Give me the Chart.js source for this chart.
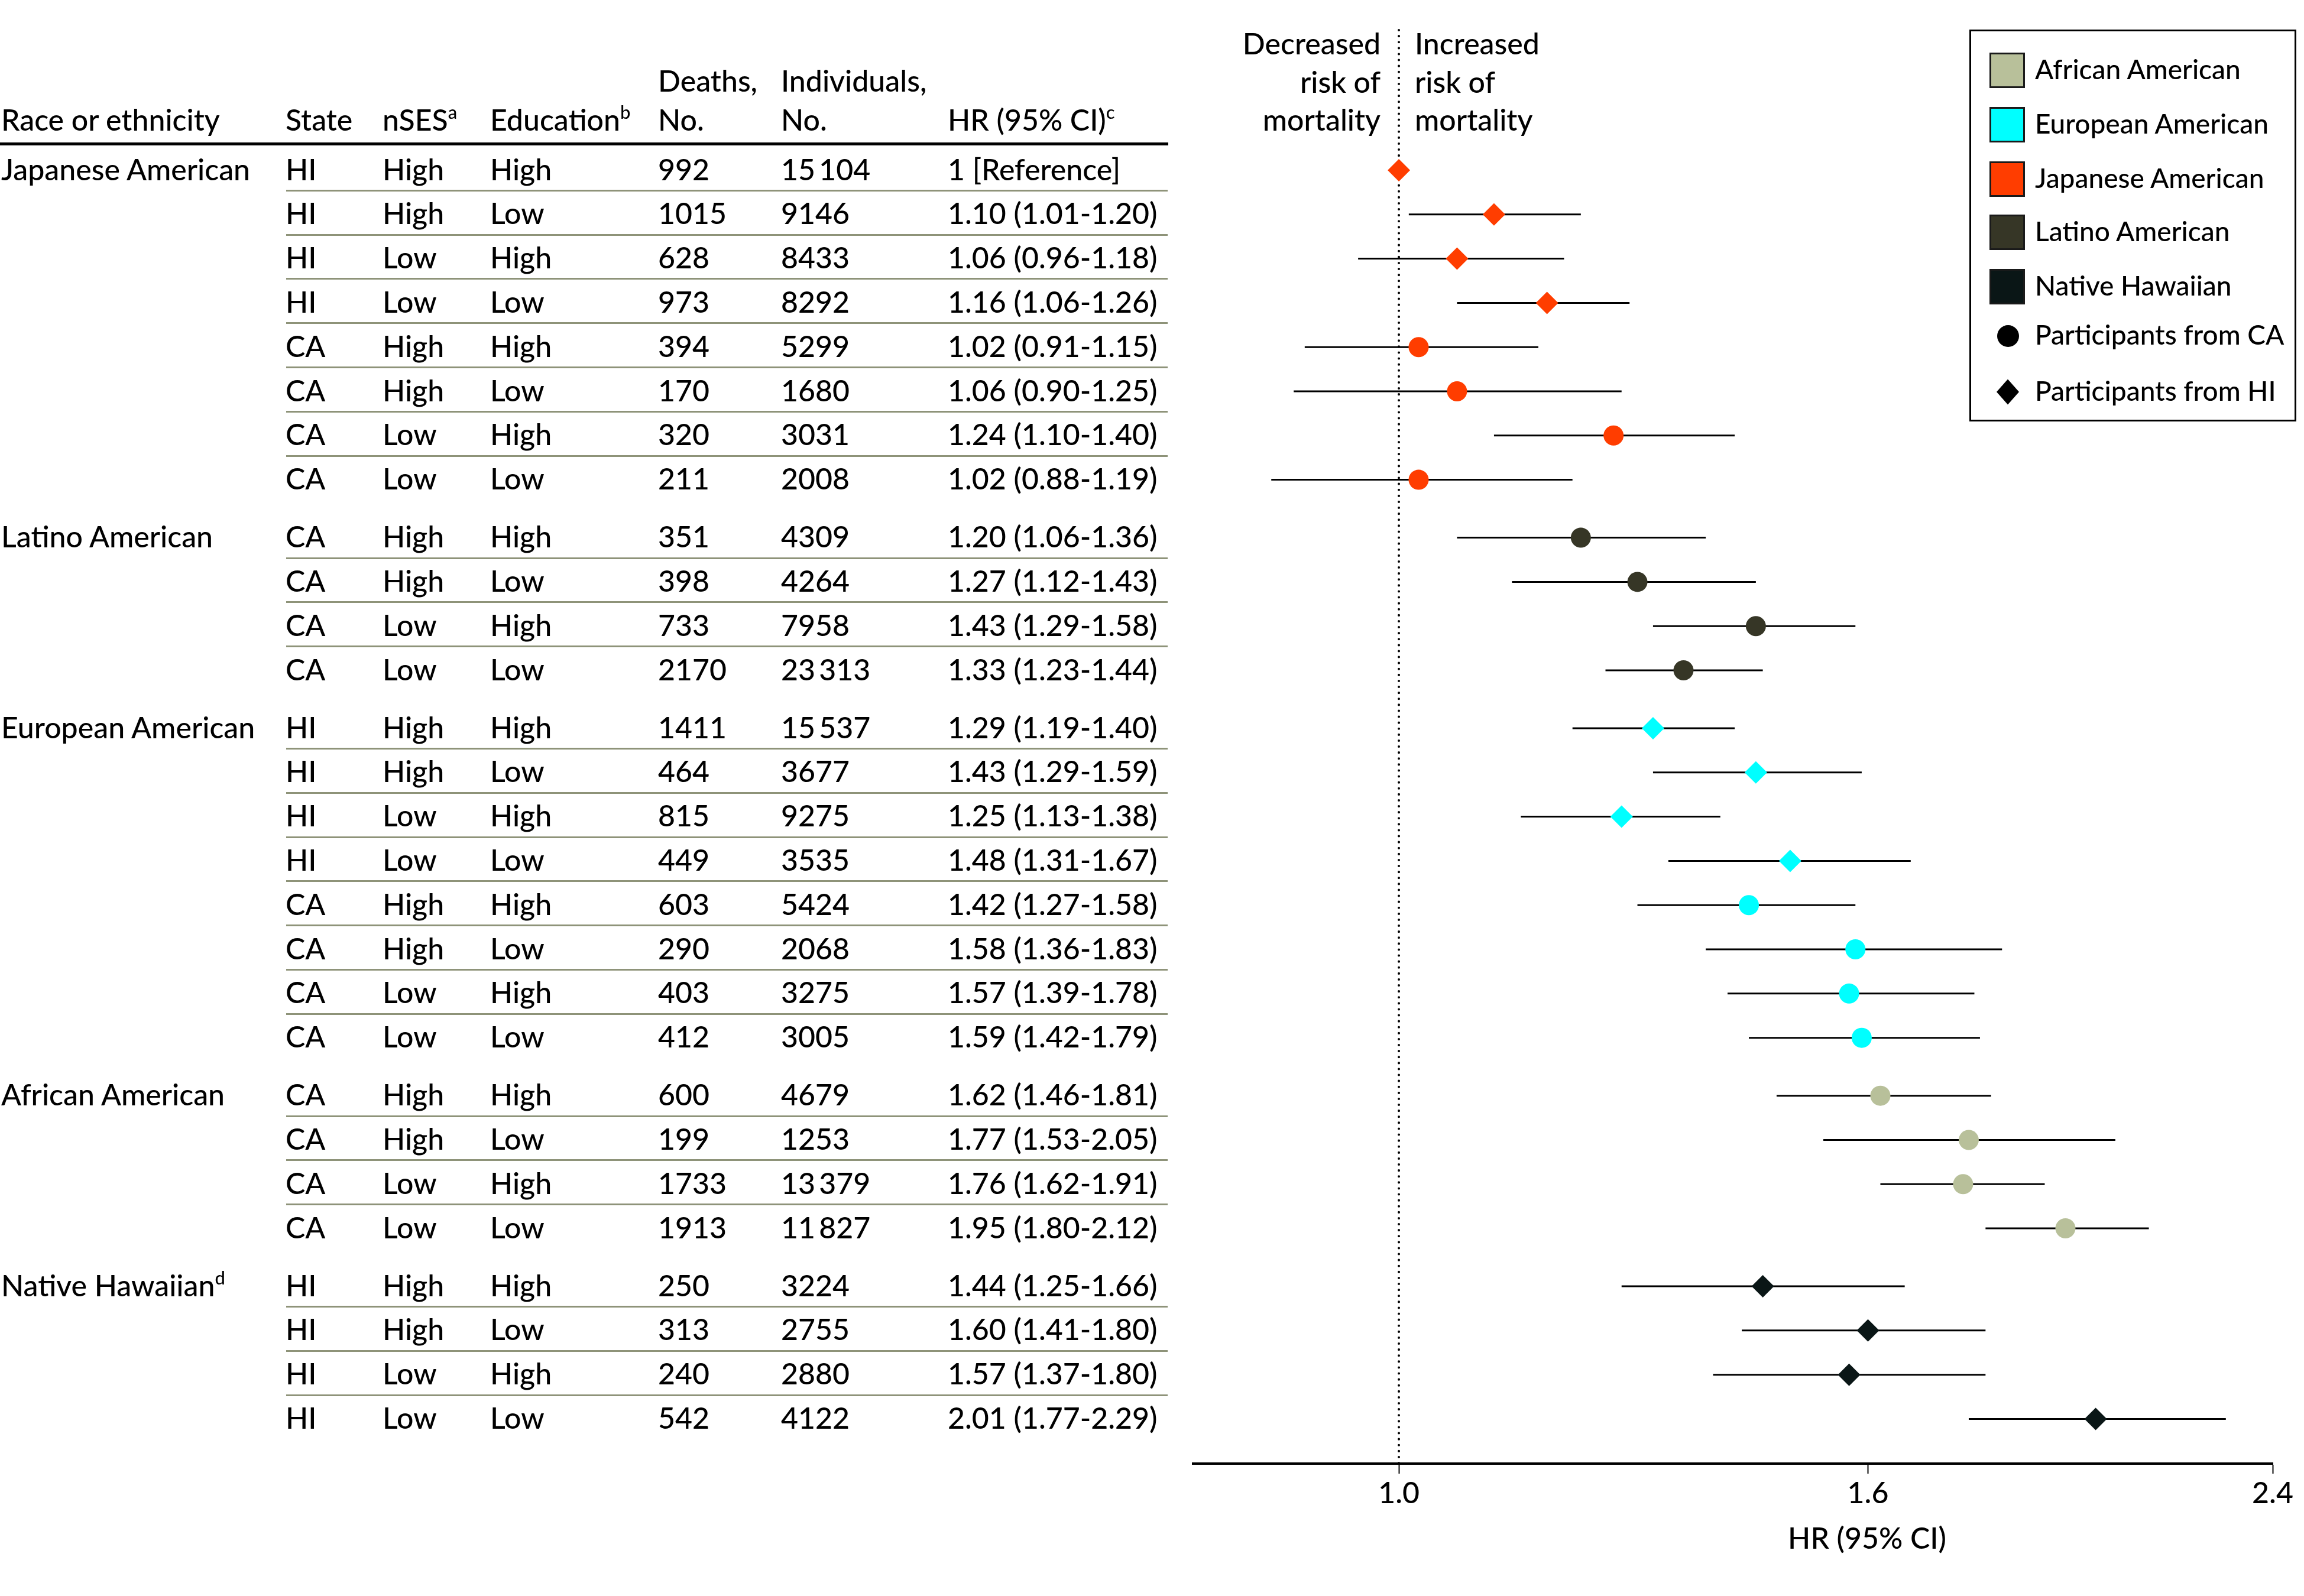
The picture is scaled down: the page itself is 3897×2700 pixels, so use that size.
<!DOCTYPE html>
<html>
<head>
<meta charset="utf-8">
<script src="https://cdn.jsdelivr.net/npm/chart.js@4.4.1/dist/chart.umd.min.js"></script>
<style>
html,body{margin:0;padding:0;background:#fff;}
#wrap{position:relative;width:3897px;height:2700px;overflow:hidden;background:#fff;color:#000;font-family:Lato,"Open Sans",sans-serif;font-weight:500;}
#c{position:absolute;left:0;top:0;}
.t{position:absolute;white-space:nowrap;font-size:50px;line-height:50px;}
.t.lg{font-size:46px;}
.sup{font-size:31px;position:relative;top:-20px;}
.hline{position:absolute;}
</style>
</head>
<body>
<div id="wrap"><canvas id="c" width="3897" height="2700"></canvas></div>
<script>
// ---------------- data ----------------
const groupNames  = ['Japanese American', 'Latino American', 'European American', 'African American', 'Native Hawaiian'];
const groupSup    = ['', '', '', '', 'd'];
const groupSizes  = [8, 4, 8, 4, 4];
const states      = ['HI','HI','HI','HI','CA','CA','CA','CA',
                     'CA','CA','CA','CA',
                     'HI','HI','HI','HI','CA','CA','CA','CA',
                     'CA','CA','CA','CA',
                     'HI','HI','HI','HI'];
const nses        = ['High','High','Low','Low','High','High','Low','Low',
                     'High','High','Low','Low',
                     'High','High','Low','Low','High','High','Low','Low',
                     'High','High','Low','Low',
                     'High','High','Low','Low'];
const education   = ['High','Low','High','Low','High','Low','High','Low',
                     'High','Low','High','Low',
                     'High','Low','High','Low','High','Low','High','Low',
                     'High','Low','High','Low',
                     'High','Low','High','Low'];
const deaths      = [992,1015,628,973,394,170,320,211,
                     351,398,733,2170,
                     1411,464,815,449,603,290,403,412,
                     600,199,1733,1913,
                     250,313,240,542];
const individuals = [15104,9146,8433,8292,5299,1680,3031,2008,
                     4309,4264,7958,23313,
                     15537,3677,9275,3535,5424,2068,3275,3005,
                     4679,1253,13379,11827,
                     3224,2755,2880,4122];
const hr          = [1,1.10,1.06,1.16,1.02,1.06,1.24,1.02,
                     1.20,1.27,1.43,1.33,
                     1.29,1.43,1.25,1.48,1.42,1.58,1.57,1.59,
                     1.62,1.77,1.76,1.95,
                     1.44,1.60,1.57,2.01];
const ciLow       = [null,1.01,0.96,1.06,0.91,0.90,1.10,0.88,
                     1.06,1.12,1.29,1.23,
                     1.19,1.29,1.13,1.31,1.27,1.36,1.39,1.42,
                     1.46,1.53,1.62,1.80,
                     1.25,1.41,1.37,1.77];
const ciHigh      = [null,1.20,1.18,1.26,1.15,1.25,1.40,1.19,
                     1.36,1.43,1.58,1.44,
                     1.40,1.59,1.38,1.67,1.58,1.83,1.78,1.79,
                     1.81,2.05,1.91,2.12,
                     1.66,1.80,1.80,2.29];
const xTicks      = [1.0, 1.6, 2.4];
const legendOrder = ['African American', 'European American', 'Japanese American', 'Latino American', 'Native Hawaiian'];
const stateLegend = [['CA', 'Participants from CA'], ['HI', 'Participants from HI']];

// ---------------- style ----------------
const FONT = 'Lato, "Open Sans", sans-serif';
const groupColors = {
  'Japanese American': '#ff3d00',
  'Latino American': '#363626',
  'European American': '#00ffff',
  'African American': '#b8c09a',
  'Native Hawaiian': '#0a1616'
};
const GAP = 0.31;         // extra vertical gap between groups (in row units)
const Y_MIN = -3.168, Y_MAX = 29.25;
const X_MIN = 0.8137, X_MAX = 2.4;

// rows
const rows = [];
let idx = 0;
groupSizes.forEach((n, g) => {
  for (let k = 0; k < n; k++) { rows.push({ g, k, y: idx + GAP * g }); idx++; }
});

function fmtN(n) {
  const s = String(n);
  return n >= 10000 ? s.slice(0, s.length - 3) + '\u2009' + s.slice(-3) : s;
}
function hrText(i) {
  if (ciLow[i] === null) return '1 [Reference]';
  return hr[i].toFixed(2) + ' (' + ciLow[i].toFixed(2) + '-' + ciHigh[i].toFixed(2) + ')';
}

// ---------------- chart ----------------
const datasets = [];
// reference dotted line
datasets.push({
  type: 'line', data: [{ x: 1, y: Y_MIN }, { x: 1, y: Y_MAX }],
  borderColor: '#000', borderWidth: 4, borderDash: [0.1, 10], borderCapStyle: 'round',
  pointRadius: 0, order: 3, clip: false
});
// CI lines
rows.forEach((r, i) => {
  if (ciLow[i] === null) return;
  datasets.push({
    type: 'line', data: [{ x: ciLow[i], y: r.y }, { x: ciHigh[i], y: r.y }],
    borderColor: '#000', borderWidth: 3, pointRadius: 0, order: 2
  });
});
// markers
groupNames.forEach((name, g) => {
  const pts = [];
  rows.forEach((r, i) => { if (r.g === g) pts.push({ x: hr[i], y: r.y, st: states[i] }); });
  datasets.push({
    type: 'scatter', label: name, data: pts, order: 0,
    backgroundColor: groupColors[name], borderWidth: 0,
    pointStyle: pts.map(p => p.st === 'HI' ? 'rectRot' : 'circle'),
    pointRadius: pts.map(p => p.st === 'HI' ? 19 : 17),
    pointHoverRadius: pts.map(p => p.st === 'HI' ? 19 : 17)
  });
});

const chart = new Chart(document.getElementById('c'), {
  data: { datasets },
  options: {
    responsive: false, animation: false, devicePixelRatio: 1,
    layout: { padding: { left: 2018, right: 53, top: 51, bottom: 124 } },
    plugins: { legend: { display: false }, tooltip: { enabled: false } },
    events: [],
    scales: {
      x: {
        type: 'logarithmic', position: 'bottom', min: X_MIN, max: X_MAX,
        afterBuildTicks: s => { s.ticks = xTicks.map(v => ({ value: v })); },
        afterFit: s => { s.height = 100; },
        ticks: { callback: v => Number(v).toFixed(1), autoSkip: false, maxRotation: 0,
                 font: { family: FONT, size: 50, weight: 500 }, color: '#000', padding: 4 },
        grid: { display: true, drawOnChartArea: false, drawTicks: true, tickLength: 17,
                tickWidth: 2, tickColor: '#000' },
        border: { display: true, color: '#000', width: 4 }
      },
      y: { type: 'linear', reverse: true, min: Y_MIN, max: Y_MAX, display: false }
    }
  }
});

// ---------------- text (HTML) ----------------
const wrap = document.getElementById('wrap');
const FS = 50, BASE = 0.887 * FS;
function addText(html, x, baseline, align, cls) {
  const d = document.createElement('div');
  d.className = 't' + (cls ? ' ' + cls : '');
  d.innerHTML = html;
  d.style.top = (baseline - BASE) + 'px';
  if (align === 'right') d.style.right = (3897 - x) + 'px';
  else if (align === 'center') { d.style.left = x + 'px'; d.style.transform = 'translateX(-50%)'; }
  else d.style.left = x + 'px';
  wrap.appendChild(d);
  return d;
}
function addLine(x1, x2, y, h, color) {
  const d = document.createElement('div');
  d.className = 'hline';
  d.style.left = x1 + 'px'; d.style.width = (x2 - x1) + 'px';
  d.style.top = (y - h / 2) + 'px'; d.style.height = h + 'px';
  d.style.background = color;
  wrap.appendChild(d);
}

const COL = { race: 2, state: 483, nses: 647, edu: 829, deaths: 1113, indiv: 1321, hr: 1603 };
// header
addText('Race or ethnicity', COL.race, 221);
addText('State', COL.state, 221);
addText('nSES<span class="sup">a</span>', COL.nses, 221);
addText('Education<span class="sup">b</span>', COL.edu, 221);
addText('Deaths,', COL.deaths, 155);
addText('No.', COL.deaths, 221);
addText('Individuals,', COL.indiv, 155);
addText('No.', COL.indiv, 221);
addText('HR (95% CI)<span class="sup">c</span>', COL.hr, 221);
addLine(0, 1976, 243.5, 5, '#000');

const ys = chart.scales.y;
rows.forEach((r, i) => {
  const py = ys.getPixelForValue(r.y);
  const bl = py + 17;
  if (r.k === 0) addText(groupNames[r.g] + (groupSup[r.g] ? '<span class="sup">' + groupSup[r.g] + '</span>' : ''), COL.race, bl);
  addText(states[i], COL.state, bl);
  addText(nses[i], COL.nses, bl);
  addText(education[i], COL.edu, bl);
  addText(String(deaths[i]), COL.deaths, bl);
  addText(fmtN(individuals[i]), COL.indiv, bl);
  addText(hrText(i), COL.hr, bl);
  if (i + 1 < rows.length && rows[i + 1].g === r.g) {
    const mid = (py + ys.getPixelForValue(rows[i + 1].y)) / 2 - 3;
    addLine(484, 1975, mid, 3, '#8e9379');
  }
});

// risk annotations
const x1 = chart.scales.x.getPixelForValue(1);
addText('Decreased', x1 - 31, 92, 'right');
addText('risk of', x1 - 31, 157, 'right');
addText('mortality', x1 - 31, 221, 'right');
addText('Increased', x1 + 27, 92);
addText('risk of', x1 + 27, 157);
addText('mortality', x1 + 27, 221);

// axis title
addText('HR (95% CI)', 3158, 2620, 'center');

// legend
const lg = document.createElement('div');
lg.style.cssText = 'position:absolute;left:3331px;top:50px;width:553px;height:663px;border:3px solid #000;box-sizing:border-box;';
wrap.appendChild(lg);
const legendY = [119, 211, 303, 393, 485, 568, 663];
legendOrder.forEach((name, j) => {
  const cy = legendY[j];
  const sw = document.createElement('div');
  sw.style.cssText = 'position:absolute;left:3365px;top:' + (cy - 30) + 'px;width:60px;height:60px;box-sizing:border-box;border:3px solid #1a1a1a;background:' + groupColors[name] + ';';
  wrap.appendChild(sw);
  addText(name, 3442, cy + 17, null, 'lg');
});
stateLegend.forEach(([st, label], j) => {
  const cy = legendY[5 + j];
  const m = document.createElement('div');
  if (st === 'CA') {
    m.style.cssText = 'position:absolute;left:' + (3396 - 18.5) + 'px;top:' + (cy - 18.5) + 'px;width:37px;height:37px;border-radius:50%;background:#000;';
  } else {
    m.style.cssText = 'position:absolute;left:' + (3396 - 19) + 'px;top:' + (cy - 21.5) + 'px;width:38px;height:43px;background:#000;clip-path:polygon(50% 0,100% 50%,50% 100%,0 50%);';
  }
  wrap.appendChild(m);
  addText(label, 3442, cy + 17, null, 'lg');
});
</script>
</body>
</html>
